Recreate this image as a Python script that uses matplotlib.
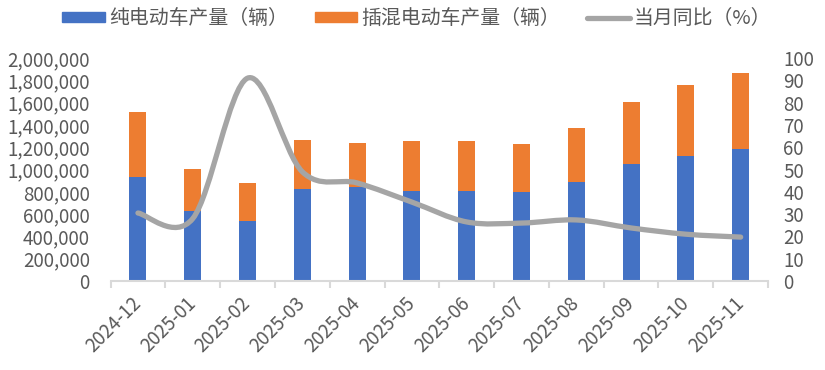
import numpy as np
import matplotlib
matplotlib.use("Agg")
import matplotlib.pyplot as plt
from matplotlib.path import Path
from matplotlib.patches import PathPatch, Patch
from matplotlib.lines import Line2D
from matplotlib.ticker import FuncFormatter, FixedLocator

plt.rcParams['font.family'] = ['Noto Sans CJK SC', 'DejaVu Sans']

# data
months = ['2024-12', '2025-01', '2025-02', '2025-03', '2025-04', '2025-05',
          '2025-06', '2025-07', '2025-08', '2025-09', '2025-10', '2025-11']
bev = [932000, 628000, 538000, 825000, 843000, 807000,
       807000, 798000, 888000, 1049000, 1121000, 1184000]
total = [1516000, 1004000, 879000, 1265000, 1238000, 1256000,
         1256000, 1229000, 1372000, 1605000, 1758000, 1865000]
phev = [t - b for t, b in zip(total, bev)]
yoy = [30.5, 28.0, 91.0, 49.0, 44.0, 35.4, 26.5, 26.0, 27.4, 23.8, 21.0, 19.7]

c_bev = '#4472C4'
c_phev = '#ED7D31'
c_line = '#A5A5A5'
c_text = '#595959'
c_axis = '#D9D9D9'
fs = 13.5

fig = plt.figure(figsize=(8.25, 3.7), dpi=100)
ax = fig.add_axes([0.134, 0.2405, 0.797, 0.6025])
x = np.arange(len(months))

ax.bar(x, bev, width=0.31, color=c_bev, zorder=2)
ax.bar(x, phev, width=0.31, bottom=bev, color=c_phev, zorder=2)
ax.set_xlim(-0.5, len(months) - 0.5)
ax.set_ylim(0, 2000000)
ax.yaxis.set_major_locator(FixedLocator(np.arange(0, 2000001, 200000)))
ax.yaxis.set_major_formatter(FuncFormatter(lambda v, p: f'{v:,.0f}'))

ax.set_xticks(x)
ax.set_xticklabels(months, rotation=45, ha='right', va='center',
                   rotation_mode='anchor')
ax.set_xticks(np.arange(-0.5, len(months)), minor=True)
ax.tick_params(axis='x', which='major', length=0, pad=14, labelsize=fs, labelcolor=c_text)
ax.tick_params(axis='x', which='minor', length=5, width=1.5, color=c_axis)
ax.tick_params(axis='y', length=0, labelsize=fs, labelcolor=c_text, pad=15)
for s in ['top', 'left', 'right']:
    ax.spines[s].set_visible(False)
ax.spines['bottom'].set_color(c_axis)
ax.spines['bottom'].set_linewidth(1.5)

# yoy line, smoothed with bezier segments through the points
ax2 = ax.twinx()
ax2.set_ylim(0, 100)
ax2.yaxis.set_major_locator(FixedLocator(np.arange(0, 101, 10)))
ax2.tick_params(axis='y', length=0, labelsize=fs, labelcolor=c_text, pad=11)
for s in ax2.spines.values():
    s.set_visible(False)

pts = np.column_stack([x, yoy]).astype(float)
ext = np.vstack([pts[0], pts, pts[-1]])
verts = [pts[0]]
codes = [Path.MOVETO]
for i in range(len(pts) - 1):
    p0, p1, p2, p3 = ext[i], ext[i + 1], ext[i + 2], ext[i + 3]
    verts += [p1 + (p2 - p0) / 6, p2 - (p3 - p1) / 6, p2]
    codes += [Path.CURVE4] * 3
ax2.add_patch(PathPatch(Path(verts, codes), facecolor='none', edgecolor=c_line,
                        lw=3.8, capstyle='round', joinstyle='round', zorder=3))

handles = [Patch(color=c_bev), Patch(color=c_phev),
           Line2D([], [], color=c_line, lw=3.8, solid_capstyle='round')]
labels = ['纯电动车产量（辆）', '插混电动车产量（辆）', '当月同比（%）']
fig.legend(handles, labels, loc='center', bbox_to_anchor=(0.505, 0.95), ncol=3,
           frameon=False, fontsize=14.3, labelcolor=c_text, handlelength=2.16,
           handleheight=0.45, handletextpad=0.2, columnspacing=1.35)

fig.savefig('out.png', dpi=100)
